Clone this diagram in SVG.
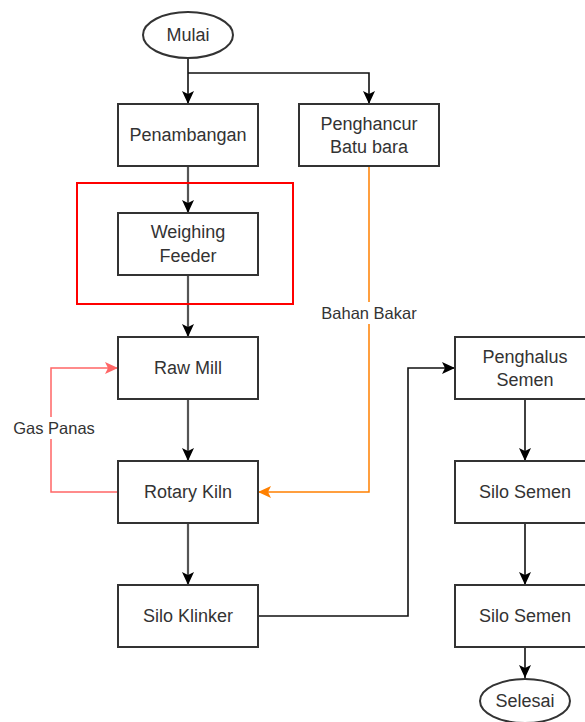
<svg xmlns="http://www.w3.org/2000/svg" width="585" height="722" viewBox="0 0 585 722">
  <style>
    .box { fill: #ffffff; stroke: #333333; stroke-width: 2; }
    .txt { font-family: "Liberation Sans", Arial, sans-serif; font-size: 18px; fill: #333333; text-anchor: middle; dominant-baseline: central; }
    .lbl { font-family: "Liberation Sans", Arial, sans-serif; font-size: 16.5px; fill: #333333; text-anchor: middle; dominant-baseline: central; }
    .flow { fill: none; stroke: #555555; stroke-width: 2.2; }
    .flow-thin { fill: none; stroke: #111111; stroke-width: 1.6; }
    .gas { fill: none; stroke: #ff6666; stroke-width: 1.5; }
    .fuel { fill: none; stroke: #ff8000; stroke-width: 1.5; }
  </style>
  <defs>
    <marker id="arrow" markerUnits="userSpaceOnUse" markerWidth="14" markerHeight="14" refX="13" refY="7" orient="auto">
      <path d="M0,1 L13,7 L0,13 L3,7 Z" fill="#000000"/>
    </marker>
    <marker id="arrow-red" markerUnits="userSpaceOnUse" markerWidth="14" markerHeight="14" refX="13" refY="7" orient="auto">
      <path d="M0,1 L13,7 L0,13 L3,7 Z" fill="#ff6666"/>
    </marker>
    <marker id="arrow-orange" markerUnits="userSpaceOnUse" markerWidth="14" markerHeight="14" refX="13" refY="7" orient="auto">
      <path d="M0,1 L13,7 L0,13 L3,7 Z" fill="#ff8000"/>
    </marker>
  </defs>

  <rect width="585" height="722" fill="#ffffff"/>

  <!-- connectors -->
  <g id="connectors">
    <path class="flow-thin" d="M188,58 L188,104" marker-end="url(#arrow)"/>
    <path class="flow-thin" d="M188,73 L369,73 L369,104" marker-end="url(#arrow)"/>
    <path class="flow" d="M188,166 L188,213" marker-end="url(#arrow)"/>
    <path class="flow" d="M188,275 L188,337" marker-end="url(#arrow)"/>
    <path class="flow" d="M188,399 L188,461" marker-end="url(#arrow)"/>
    <path class="flow" d="M188,523 L188,585" marker-end="url(#arrow)"/>
    <path class="gas" d="M118,492 L51,492 L51,368 L118,368" marker-end="url(#arrow-red)"/>
    <path class="fuel" d="M369,166 L369,492 L258,492" marker-end="url(#arrow-orange)"/>
    <path class="flow-thin" d="M258,616 L408,616 L408,368 L455,368" marker-end="url(#arrow)"/>
    <path class="flow-thin" d="M525,399 L525,461" marker-end="url(#arrow)"/>
    <path class="flow-thin" d="M525,523 L525,585" marker-end="url(#arrow)"/>
    <path class="flow-thin" d="M525,647 L525,678" marker-end="url(#arrow)"/>
    <!-- edge labels -->
    <rect x="8" y="417" width="88" height="22" fill="#ffffff"/>
    <text class="lbl" x="54" y="428">Gas Panas</text>
    <rect x="318" y="302" width="102" height="22" fill="#ffffff"/>
    <text class="lbl" x="369" y="313">Bahan Bakar</text>
  </g>

  <!-- highlight frame around the weighing feeder -->
  <rect x="77" y="183" width="216" height="121" fill="none" stroke="#ff0000" stroke-width="2"/>

  <g id="mulai">
    <ellipse class="box" cx="188" cy="35" rx="45" ry="23"/>
    <text class="txt" x="188" y="35">Mulai</text>
  </g>
  <g id="penambangan">
    <rect class="box" x="118" y="104" width="140" height="62"/>
    <text class="txt" x="188" y="135">Penambangan</text>
  </g>
  <g id="penghancur">
    <rect class="box" x="299" y="104" width="140" height="62"/>
    <text class="txt" x="369" y="124">Penghancur</text>
    <text class="txt" x="369" y="147">Batu bara</text>
  </g>
  <g id="weighing-feeder">
    <rect class="box" x="118" y="213" width="140" height="62"/>
    <text class="txt" x="188" y="232">Weighing</text>
    <text class="txt" x="188" y="256">Feeder</text>
  </g>
  <g id="raw-mill">
    <rect class="box" x="118" y="337" width="140" height="62"/>
    <text class="txt" x="188" y="368">Raw Mill</text>
  </g>
  <g id="rotary-kiln">
    <rect class="box" x="118" y="461" width="140" height="62"/>
    <text class="txt" x="188" y="492">Rotary Kiln</text>
  </g>
  <g id="silo-klinker">
    <rect class="box" x="118" y="585" width="140" height="62"/>
    <text class="txt" x="188" y="616">Silo Klinker</text>
  </g>
  <g id="penghalus-semen">
    <rect class="box" x="455" y="337" width="140" height="62"/>
    <text class="txt" x="525" y="357">Penghalus</text>
    <text class="txt" x="525" y="380">Semen</text>
  </g>
  <g id="silo-semen-1">
    <rect class="box" x="455" y="461" width="140" height="62"/>
    <text class="txt" x="525" y="492">Silo Semen</text>
  </g>
  <g id="silo-semen-2">
    <rect class="box" x="455" y="585" width="140" height="62"/>
    <text class="txt" x="525" y="616">Silo Semen</text>
  </g>
  <g id="selesai">
    <ellipse class="box" cx="525" cy="701" rx="45" ry="22"/>
    <text class="txt" x="525" y="701">Selesai</text>
  </g>
</svg>
